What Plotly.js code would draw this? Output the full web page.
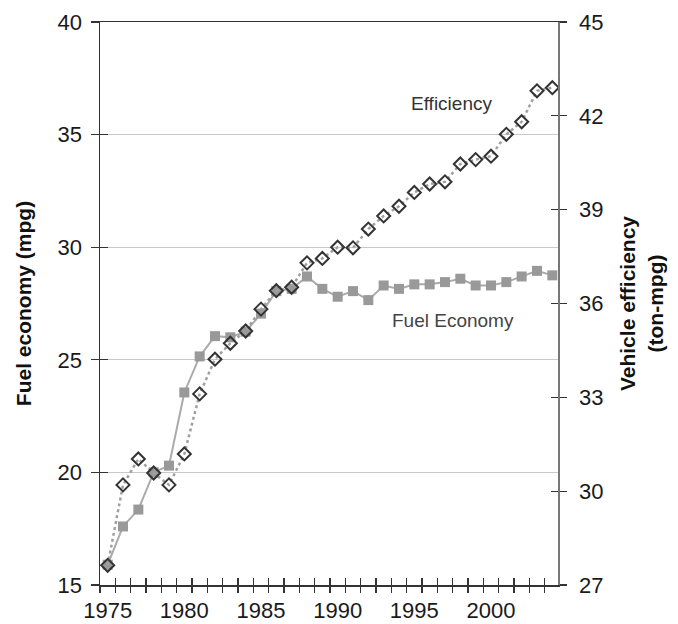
<!DOCTYPE html>
<html>
<head>
<meta charset="utf-8">
<script src="https://cdn.plot.ly/plotly-3.0.1.min.js"></script>
<style>html,body{margin:0;padding:0;background:#fff}#chart{width:678px;height:624px}</style>
</head>
<body>
<div id="chart"></div>
<script>
const years = [1975,1976,1977,1978,1979,1980,1981,1982,1983,1984,1985,1986,1987,1988,1989,
               1990,1991,1992,1993,1994,1995,1996,1997,1998,1999,2000,2001,2002,2003,2004];
const fuelEconomy = [15.9,17.6,18.35,20.0,20.3,23.55,25.15,26.05,26.0,26.25,27.05,28.05,28.15,28.7,28.15,
                     27.8,28.05,27.65,28.3,28.15,28.35,28.35,28.45,28.6,28.3,28.3,28.45,28.7,28.95,28.75];
const efficiency = [27.63,30.2,31.03,30.58,30.2,31.19,33.11,34.22,34.73,35.12,35.82,36.41,36.52,37.3,37.44,
                    37.8,37.78,38.38,38.8,39.11,39.55,39.82,39.89,40.46,40.6,40.71,41.41,41.81,42.8,42.9];
const yearLabels = [1975,1980,1985,1990,1995,2000];
const halfYearTicks = years.map(y => y - 0.5);
const leftTicks = [15,20,25,30,35,40];
const rightTicks = [27,30,33,36,39,42,45];

const FONT = '"Liberation Sans", Arial, Helvetica, sans-serif';
const xRange = [1974.5, 2004.37];
const yRange = [15, 40];
const y2Range = [27, 45];

const traces = [
  {x: [], y: [], xaxis: 'x2', yaxis: 'y3', showlegend: false, hoverinfo: 'skip', type: 'scatter'},
  {x: [], y: [], xaxis: 'x3', yaxis: 'y4', showlegend: false, hoverinfo: 'skip', type: 'scatter'},
  {
    x: years, y: fuelEconomy, name: 'Fuel Economy', type: 'scatter', mode: 'lines+markers',
    line: {color: '#aaaaaa', width: 2},
    marker: {symbol: 'square', size: 10, color: '#999999'},
    xaxis: 'x', yaxis: 'y', showlegend: false
  },
  {
    x: years, y: efficiency, name: 'Efficiency', type: 'scatter', mode: 'lines+markers',
    line: {color: '#a0a0a0', width: 2.5, dash: 'dot'},
    marker: {symbol: 'diamond-open', size: 10, color: '#333333', line: {width: 2, color: '#333333'}},
    xaxis: 'x', yaxis: 'y2', showlegend: false
  }
];

const layout = {
  width: 678, height: 624,
  margin: {l: 100, r: 120, t: 22, b: 39},
  paper_bgcolor: '#ffffff', plot_bgcolor: '#ffffff',
  font: {family: FONT, size: 22, color: '#1a1a1a'},
  showlegend: false,
  xaxis: {
    range: xRange, tickmode: 'array', tickvals: yearLabels,
    ticks: 'outside', ticklen: 5, tickcolor: 'rgba(0,0,0,0)',
    showline: true, linecolor: '#333333', linewidth: 1.5, mirror: true,
    showgrid: false, zeroline: false, automargin: false,
    tickfont: {family: FONT, size: 22, color: '#1a1a1a'}
  },
  xaxis2: {
    range: xRange, overlaying: 'x', anchor: 'y3', tickmode: 'array', tickvals: halfYearTicks,
    ticks: 'outside', ticklen: 7, tickwidth: 1.3, tickcolor: '#333333',
    showticklabels: false, showline: false, showgrid: false, zeroline: false, automargin: false
  },
  xaxis3: {
    range: xRange, overlaying: 'x', anchor: 'y4', tickmode: 'array', tickvals: halfYearTicks,
    ticks: 'inside', ticklen: 7, tickwidth: 1.3, tickcolor: '#333333',
    showticklabels: false, showline: false, showgrid: false, zeroline: false, automargin: false
  },
  yaxis: {
    range: yRange, tickmode: 'array', tickvals: leftTicks,
    ticks: 'outside', ticklen: 8, tickwidth: 1.3, tickcolor: '#333333',
    showline: true, linecolor: '#333333', linewidth: 1.5,
    showgrid: true, gridcolor: '#c8c8c8', gridwidth: 1, zeroline: false, automargin: false,
    ticklabelstandoff: 4,
    tickfont: {family: FONT, size: 22, color: '#1a1a1a'},
    title: {text: '<b>Fuel economy (mpg)</b>', font: {family: FONT, size: 21, color: '#111111'}, standoff: 20}
  },
  yaxis3: {
    range: yRange, overlaying: 'y', anchor: 'x2', side: 'left', tickmode: 'array', tickvals: leftTicks,
    ticks: 'inside', ticklen: 8, tickwidth: 1.3, tickcolor: '#333333',
    showticklabels: false, showline: false, showgrid: false, zeroline: false, automargin: false
  },
  yaxis2: {
    range: y2Range, overlaying: 'y', side: 'right', anchor: 'x', tickmode: 'array', tickvals: rightTicks,
    ticks: 'outside', ticklen: 7, tickwidth: 1.3, tickcolor: '#333333',
    showline: true, linecolor: '#777777', linewidth: 1.5,
    showgrid: false, zeroline: false, automargin: false,
    ticklabelstandoff: 8,
    tickfont: {family: FONT, size: 22, color: '#1a1a1a'},
    title: {text: '<b>Vehicle efficiency<br>(ton-mpg)</b>', font: {family: FONT, size: 21, color: '#111111'}, standoff: 18}
  },
  yaxis4: {
    range: y2Range, overlaying: 'y', side: 'right', anchor: 'x3', tickmode: 'array', tickvals: rightTicks,
    ticks: 'inside', ticklen: 7, tickwidth: 1.3, tickcolor: '#333333',
    showticklabels: false, showline: false, showgrid: false, zeroline: false, automargin: false
  },
  annotations: [
    {x: 1997.4, y: 36.4, xref: 'x', yref: 'y', text: 'Efficiency', showarrow: false,
     font: {family: FONT, size: 19, color: '#333333'}},
    {x: 1997.5, y: 26.73, xref: 'x', yref: 'y', text: 'Fuel Economy', showarrow: false,
     font: {family: FONT, size: 19, color: '#444444'}}
  ]
};

Plotly.newPlot('chart', traces, layout, {staticPlot: true, displayModeBar: false});
</script>
</body>
</html>
